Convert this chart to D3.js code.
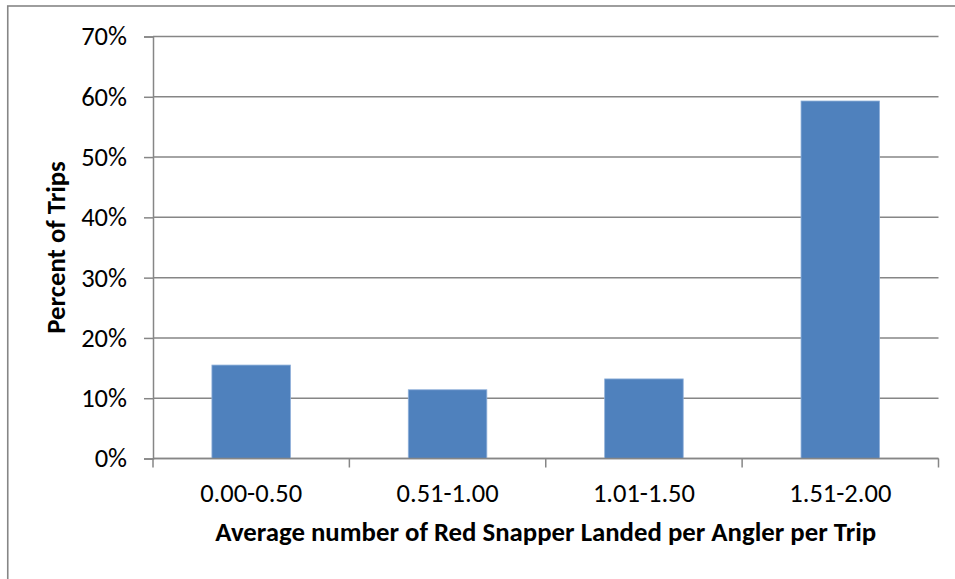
<!DOCTYPE html>
<html>
<head>
<meta charset="utf-8">
<script src="https://cdn.jsdelivr.net/npm/d3@7"></script>
<style>
  html, body { margin: 0; padding: 0; background: #fff; }
  svg { display: block; }
  text { font-family: Carlito, Calibri, "Liberation Sans Narrow", "Liberation Sans", sans-serif; fill: #000; }
</style>
</head>
<body>
<svg id="chart" width="955" height="579"></svg>
<script>
// Share of trips by average red snapper landed per angler per trip
const categories = ["0.00-0.50", "0.51-1.00", "1.01-1.50", "1.51-2.00"];
const percentOfTrips = [15.5, 11.4, 13.2, 59.3];
const yTicks = [0, 10, 20, 30, 40, 50, 60, 70];
const xTitle = "Average number of Red Snapper Landed per Angler per Trip";
const yTitle = "Percent of Trips";

const svg = d3.select("#chart");
const plot = { left: 153, right: 938.5, top: 36.5, bottom: 458.5 };
const gridColor = "#868686";

// Outer chart frame (only top and left edges fall inside the view)
svg.append("rect")
  .attr("x", 7.75).attr("y", 6)
  .attr("width", 1000).attr("height", 1000)
  .attr("fill", "none")
  .attr("stroke", gridColor)
  .attr("stroke-width", 1.6);

const x = d3.scaleBand()
  .domain(categories)
  .range([plot.left, plot.right])
  .paddingInner(0.6)
  .paddingOuter(0.3);

const y = d3.scaleLinear()
  .domain([0, 70])
  .range([plot.bottom, plot.top]);

// Horizontal gridlines
svg.append("g")
  .selectAll("line")
  .data(yTicks)
  .join("line")
  .attr("x1", plot.left).attr("x2", plot.right)
  .attr("y1", d => y(d)).attr("y2", d => y(d))
  .attr("stroke", gridColor)
  .attr("stroke-width", 1.5);

// Y axis
const yAxis = svg.append("g")
  .attr("transform", `translate(${plot.left},0)`)
  .call(d3.axisLeft(y).tickValues(yTicks).tickSize(9).tickPadding(17).tickFormat(d => d + "%"));
yAxis.select(".domain").attr("stroke", gridColor).attr("stroke-width", 1.5);
yAxis.selectAll(".tick line").attr("stroke", gridColor).attr("stroke-width", 1.5);
yAxis.selectAll(".tick text")
  .attr("font-size", 26.5)
  .attr("font-family", null)
  .attr("fill", "#000");

// Bars
svg.append("g")
  .selectAll("rect")
  .data(percentOfTrips)
  .join("rect")
  .attr("x", (d, i) => x(categories[i]))
  .attr("width", x.bandwidth())
  .attr("y", d => y(d))
  .attr("height", d => y(0) - y(d))
  .attr("fill", "#4F81BD")
  .attr("stroke", "#8FB0DA")
  .attr("stroke-width", 0.8);

// X axis: ticks sit on category boundaries
const boundaries = categories.map(c => x(c) - x.step() * x.paddingInner() / 2);
boundaries.push(plot.right);
const xAxis = svg.append("g");
xAxis.append("line")
  .attr("x1", plot.left).attr("x2", plot.right)
  .attr("y1", plot.bottom).attr("y2", plot.bottom)
  .attr("stroke", gridColor).attr("stroke-width", 1.5);
xAxis.selectAll("line.tick")
  .data(boundaries)
  .join("line")
  .attr("class", "tick")
  .attr("x1", d => d).attr("x2", d => d)
  .attr("y1", plot.bottom).attr("y2", plot.bottom + 9)
  .attr("stroke", gridColor).attr("stroke-width", 1.5);
xAxis.selectAll("text")
  .data(categories)
  .join("text")
  .attr("x", d => x(d) + x.bandwidth() / 2)
  .attr("y", 502)
  .attr("text-anchor", "middle")
  .attr("font-size", 26.5)
  .text(d => d);

// Axis titles
svg.append("text")
  .attr("x", (plot.left + plot.right) / 2)
  .attr("y", 541)
  .attr("text-anchor", "middle")
  .attr("font-size", 26.8)
  .attr("font-weight", "bold")
  .text(xTitle);

svg.append("text")
  .attr("transform", `translate(65,${(plot.top + plot.bottom) / 2}) rotate(-90)`)
  .attr("text-anchor", "middle")
  .attr("font-size", 26.8)
  .attr("font-weight", "bold")
  .text(yTitle);
</script>
</body>
</html>
